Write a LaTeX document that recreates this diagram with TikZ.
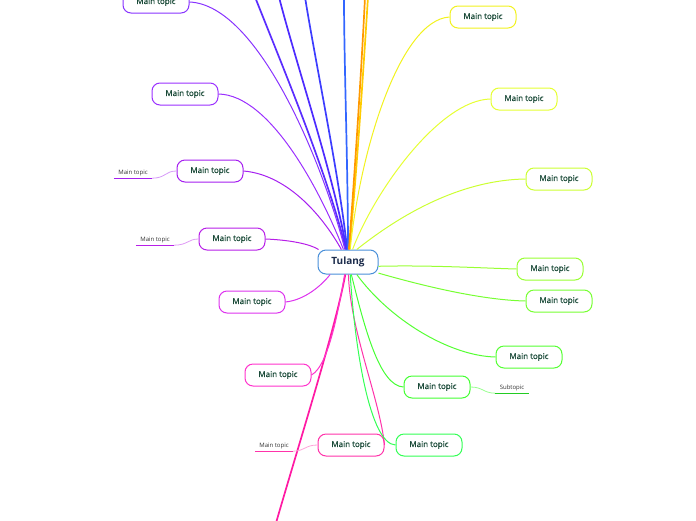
\documentclass[tikz,border=0pt]{standalone}
\usepackage{fontspec}
\setmainfont{Open Sans}
\newfontfamily\topicfont{Open Sans}[FakeBold=0.6]
\definecolor{topictext}{HTML}{1A4A38}
\definecolor{roottext}{HTML}{1B2B4B}
\definecolor{rootline}{HTML}{4A90D9}
\definecolor{violetA}{HTML}{8833FF}
\definecolor{violetB}{HTML}{9B30FF}
\definecolor{violetC}{HTML}{A51FF0}
\definecolor{violetD}{HTML}{B81FE8}
\definecolor{violetE}{HTML}{DD33EE}
\definecolor{pinkA}{HTML}{FF33CC}
\definecolor{pinkB}{HTML}{FF33AA}
\definecolor{pinkC}{HTML}{FF1AA3}
\definecolor{indigoA}{HTML}{5A2DFF}
\definecolor{indigoB}{HTML}{4D2BFF}
\definecolor{indigoC}{HTML}{3D3DFF}
\definecolor{indigoD}{HTML}{3366FF}
\definecolor{orangeA}{HTML}{FF9900}
\definecolor{orangeB}{HTML}{FFCC00}
\definecolor{yellowA}{HTML}{F2F21F}
\definecolor{yellowB}{HTML}{E6FF33}
\definecolor{yellowC}{HTML}{CCFF33}
\definecolor{greenA}{HTML}{99FF33}
\definecolor{greenB}{HTML}{77FF33}
\definecolor{greenC}{HTML}{55FF33}
\definecolor{greenD}{HTML}{44FF33}
\definecolor{greenE}{HTML}{33FF55}
\definecolor{greenline}{HTML}{22CC22}

\begin{document}
\begin{tikzpicture}[x=1pt, y=-1pt,
  topic/.style={draw, fill=white, rounded corners=8pt, line width=1pt,
    minimum width=66pt, minimum height=22pt, text=topictext,
    font=\topicfont\fontsize{8}{9}\selectfont},
  root/.style={draw=rootline, fill=white, rounded corners=8pt, line width=1pt,
    minimum width=60pt, minimum height=24pt, text=roottext,
    font=\fontsize{10}{11}\bfseries},
  subtopic/.style={inner sep=1pt, minimum width=38pt, minimum height=10pt,
    text=black!80, font=\fontsize{6}{7}\selectfont},
  branch/.style={line width=1.7pt},
  link/.style={line width=1pt},
  twig/.style={line width=0.8pt}]
\useasboundingbox (0,0) rectangle (696,520);
\clip (0,0) rectangle (696,520);

\node[root] (c) at (348,262) {Tulang};

\node[topic, draw=violetA] (n1) at (156,2) {Main topic};
\node[topic, draw=violetB] (n2) at (185,94) {Main topic};
\node[topic, draw=violetC] (n3) at (210,171) {Main topic};
\node[topic, draw=violetD] (n4) at (232,239) {Main topic};
\node[topic, draw=violetE] (n5) at (252,302) {Main topic};
\node[topic, draw=pinkA] (n6) at (278,375) {Main topic};
\node[topic, draw=pinkB] (n7) at (351,445) {Main topic};

\node[topic, draw=yellowA] (r1) at (483,17) {Main topic};
\node[topic, draw=yellowB] (r2) at (524,99) {Main topic};
\node[topic, draw=yellowC] (r3) at (559,179) {Main topic};
\node[topic, draw=greenA] (r4) at (550,269) {Main topic};
\node[topic, draw=greenB] (r5) at (559,301) {Main topic};
\node[topic, draw=greenC] (r6) at (529,357) {Main topic};
\node[topic, draw=greenD] (r7) at (437,387) {Main topic};
\node[topic, draw=greenE] (r8) at (429,445) {Main topic};

\node[subtopic] (s3) at (133,173) {Main topic};
\node[subtopic] (s4) at (155,240) {Main topic};
\node[subtopic] (s7) at (274,446) {Main topic};
\node[subtopic, minimum width=33pt] (s8) at (512,388) {Subtopic};

\coordinate (t1) at (255,-3);
\coordinate (t2) at (279,-3);
\coordinate (t3) at (305,-3);
\coordinate (t4) at (344,-3);
\coordinate (t5) at (365,-3);
\coordinate (t6) at (368,-3);
\coordinate (bt) at (276,523);

% branches leaving the page
\draw[branch, indigoA] (c.100) .. controls (330,180) and (280,60) .. (t1);
\draw[branch, indigoB] (c.97) .. controls (335,180) and (295,60) .. (t2);
\draw[branch, indigoC] (c.94) .. controls (340,180) and (315,60) .. (t3);
\draw[branch, indigoD] (c.90) .. controls (348,170) and (344,60) .. (t4);
\draw[branch, orangeB] (c.84) .. controls (357,170) and (364,60) .. (t6);
\draw[branch, orangeA] (c.86) .. controls (355,170) and (362,60) .. (t5);
\draw[branch, pinkC] (c.258) .. controls (335,330) and (300,440) .. (bt);

% left side
\draw[link, violetA] (n1.east) .. controls (260,5) and (325,170) .. (c.104);
\draw[link, violetB] (n2.east) .. controls (270,95) and (320,190) .. (c.110);
\draw[link, violetC] (n3.east) .. controls (290,175) and (325,220) .. (c.118);
\draw[link, violetD] (n4.east) .. controls (290,240) and (310,244) .. (c.157);
\draw[link, violetE] (n5.east) .. controls (305,300) and (322,285) .. (c.215);
\draw[link, pinkA] (n6.east) .. controls (330,365) and (340,300) .. (c.255);
\draw[link, pinkB] (c.272) .. controls (350,330) and (380,400) .. (n7.east);

% right side
\draw[link, yellowA] (c.80) .. controls (360,150) and (400,20) .. (r1.west);
\draw[link, yellowB] (c.70) .. controls (375,190) and (440,100) .. (r2.west);
\draw[link, yellowC] (c.55) .. controls (400,215) and (460,180) .. (r3.west);
\draw[link, greenA] (c.-8) .. controls (430,265) and (480,268) .. (r4.west);
\draw[link, greenB] (c.-20) .. controls (420,285) and (480,300) .. (r5.west);
\draw[link, greenC] (c.-55) .. controls (390,320) and (450,356) .. (r6.west);
\draw[link, greenD] (c.-75) .. controls (365,330) and (380,386) .. (r7.west);
\draw[link, greenE] (c.-80) .. controls (355,350) and (370,444) .. (r8.west);

% subtopics
\draw[twig, violetC!45] (n3.west) .. controls (165,171) and (166,178) .. (s3.south east);
\draw[line width=1.4pt, violetC] (s3.south west) -- (s3.south east);
\draw[twig, violetD!45] (n4.west) .. controls (188,239) and (188,245) .. (s4.south east);
\draw[line width=1.4pt, violetD] (s4.south west) -- (s4.south east);
\draw[twig, pinkB!45] (n7.west) .. controls (305,445) and (305,451) .. (s7.south east);
\draw[line width=1.4pt, pinkB] (s7.south west) -- (s7.south east);
\draw[twig, greenD!55] (r7.east) .. controls (483,387) and (483,393) .. (s8.south west);
\draw[line width=1.4pt, greenline] (s8.south west) -- (s8.south east);
\end{tikzpicture}
\end{document}
